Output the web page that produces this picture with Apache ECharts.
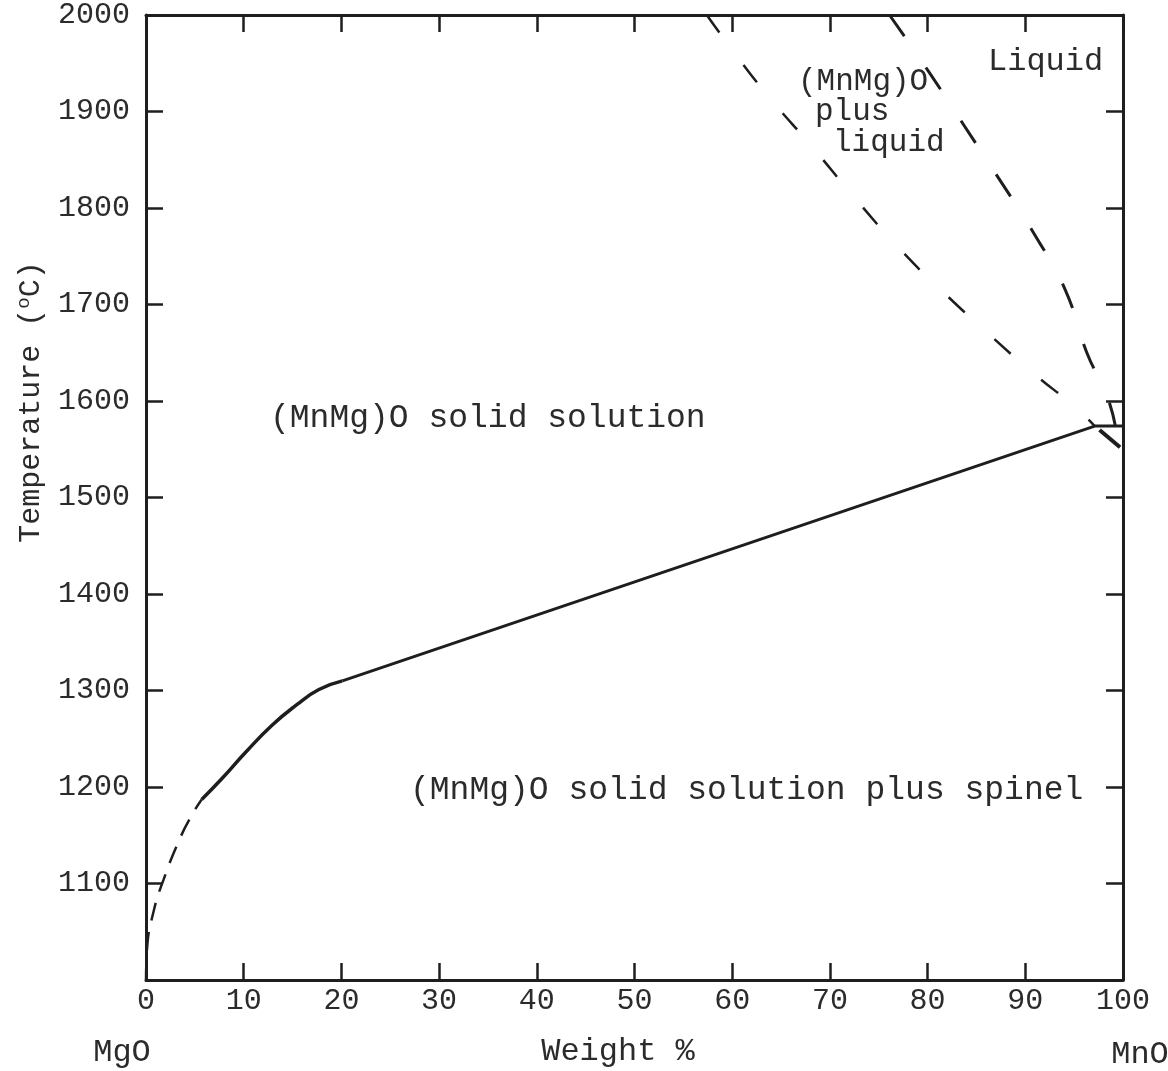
<!DOCTYPE html>
<html>
<head>
<meta charset="utf-8">
<script src="https://cdn.jsdelivr.net/npm/echarts@6/dist/echarts.min.js"></script>
<style>
html,body{margin:0;padding:0;background:#fff;}
#c{width:1168px;height:1071px;}
</style>
</head>
<body>
<div id="c"></div>
<script>
// ---- data (weight % MnO, temperature °C) ----
const mgoDashed = [[0,1000],[0.1,1031],[0.8,1072],[1.8,1104],[3.4,1145],[4.7,1171],[5.7,1187]];
const solidusCurve = [[5.7,1187],[7.8,1209],[10.2,1236],[12.9,1264],[15.4,1285],[17.7,1301],[20.1,1310]];
const solidusLine = [[20.1,1310],[97.1,1574],[100,1574]];
const liquidusA = [[57.4,2000],[60.2,1961],[63.6,1917],[68.3,1862],[72.5,1811],[77.3,1756],[82,1709],[86.3,1669],[90.8,1629],[95.3,1592],[97.1,1574]];
const liquidusB = [[76.1,2000],[80.2,1940],[83.7,1886],[87.2,1832],[91.1,1770],[94.1,1715],[96.3,1650],[98.3,1607],[99.2,1575]];
const endSegment = [[97.6,1570],[99.7,1552]];
const xRange = [0, 100];
const yRange = [1000, 2000];
const xTickValues = [10, 20, 30, 40, 50, 60, 70, 80, 90];
const yTickValues = [1100, 1200, 1300, 1400, 1500, 1600, 1700, 1800, 1900];
const hiddenYLabels = [1000];

const INK = '#1e1e1e';
const TXT = '#2b2b2b';
const FONT = '"Liberation Mono", "DejaVu Sans Mono", monospace';
const TICK_PX = 17;

const chart = echarts.init(document.getElementById('c'), null, {renderer: 'canvas'});

const grid = {left: 146, right: 45, top: 15, bottom: 91};
const plotW = 1168 - grid.left - grid.right;
const plotH = 1071 - grid.top - grid.bottom;
// tick length expressed in data units so the library places the inner ticks
const dxTick = TICK_PX / plotW * (xRange[1] - xRange[0]);
const dyTick = TICK_PX / plotH * (yRange[1] - yRange[0]);

const mkLine = () => ({show: true, onZero: false, lineStyle: {color: INK, width: 3}});
const mkTick = () => ({show: true, inside: true, length: TICK_PX, lineStyle: {color: INK, width: 2.5}});

const innerTicks = []
  .concat(yTickValues.map(v => [{coord: [xRange[0], v]}, {coord: [xRange[0] + dxTick, v]}]))
  .concat(xTickValues.map(v => [{coord: [v, yRange[0]]}, {coord: [v, yRange[0] + dyTick]}]));

chart.setOption({
  backgroundColor: '#fff',
  animation: false,
  grid: grid,
  xAxis: [
    {type: 'value', min: xRange[0], max: xRange[1], interval: 10, position: 'bottom',
     axisLine: mkLine(), axisTick: {show: false}, splitLine: {show: false},
     axisLabel: {color: TXT, fontFamily: FONT, fontSize: 30, margin: 6}},
    {type: 'value', min: xRange[0], max: xRange[1], interval: 10, position: 'top',
     axisLine: mkLine(), axisTick: mkTick(), splitLine: {show: false}, axisLabel: {show: false}}
  ],
  yAxis: [
    {type: 'value', min: yRange[0], max: yRange[1], interval: 100, position: 'left',
     axisLine: mkLine(), axisTick: {show: false}, splitLine: {show: false},
     axisLabel: {color: TXT, fontFamily: FONT, fontSize: 30, margin: 16,
       formatter: v => hiddenYLabels.includes(v) ? '' : String(v)}},
    {type: 'value', min: yRange[0], max: yRange[1], interval: 100, position: 'right',
     axisLine: mkLine(), axisTick: mkTick(), splitLine: {show: false}, axisLabel: {show: false}}
  ],
  series: [
    {type: 'line', data: mgoDashed, smooth: true, showSymbol: false,
     lineStyle: {color: INK, width: 2.5, type: [18, 12]}},
    {type: 'line', data: solidusCurve, smooth: true, showSymbol: false,
     lineStyle: {color: INK, width: 3.5}},
    {type: 'line', data: solidusLine, smooth: false, showSymbol: false,
     lineStyle: {color: INK, width: 3},
     markLine: {silent: true, symbol: ['none', 'none'], label: {show: false},
       lineStyle: {color: INK, width: 2.5, type: 'solid'}, data: innerTicks}},
    {type: 'line', data: liquidusA, smooth: true, showSymbol: false,
     lineStyle: {color: INK, width: 2.5, type: [22, 40]}},
    {type: 'line', data: liquidusB, smooth: true, showSymbol: false,
     lineStyle: {color: INK, width: 3, type: [26, 38]}},
    {type: 'line', data: endSegment, smooth: false, showSymbol: false,
     lineStyle: {color: INK, width: 4}}
  ],
  graphic: [
    {type: 'text', x: 31, y: 402, rotation: Math.PI / 2,
     style: {text: 'Temperature ({sup|o}C)', fill: TXT, font: '30px ' + FONT,
       align: 'center', verticalAlign: 'middle',
       rich: {sup: {fontSize: 19, fontFamily: FONT, fill: TXT, padding: [0, 0, 14, 0]}}}},
    {type: 'text', x: 618, y: 1052, style: {text: 'Weight %', fill: TXT, font: '32px ' + FONT, align: 'center', verticalAlign: 'middle'}},
    {type: 'text', x: 122, y: 1053, style: {text: 'MgO', fill: TXT, font: '32px ' + FONT, align: 'center', verticalAlign: 'middle'}},
    {type: 'text', x: 1140, y: 1055, style: {text: 'MnO', fill: TXT, font: '32px ' + FONT, align: 'center', verticalAlign: 'middle'}},
    {type: 'text', x: 270, y: 418, style: {text: '(MnMg)O solid solution', fill: TXT, font: '33px ' + FONT, align: 'left', verticalAlign: 'middle'}},
    {type: 'text', x: 410, y: 790, style: {text: '(MnMg)O solid solution plus spinel', fill: TXT, font: '33px ' + FONT, align: 'left', verticalAlign: 'middle'}},
    {type: 'text', x: 988, y: 62, style: {text: 'Liquid', fill: TXT, font: '32px ' + FONT, align: 'left', verticalAlign: 'middle'}},
    {type: 'text', x: 798, y: 82, style: {text: '(MnMg)O', fill: TXT, font: '31px ' + FONT, align: 'left', verticalAlign: 'middle'}},
    {type: 'text', x: 815, y: 112, style: {text: 'plus', fill: TXT, font: '31px ' + FONT, align: 'left', verticalAlign: 'middle'}},
    {type: 'text', x: 833, y: 143, style: {text: 'liquid', fill: TXT, font: '31px ' + FONT, align: 'left', verticalAlign: 'middle'}}
  ]
});
</script>
</body>
</html>
